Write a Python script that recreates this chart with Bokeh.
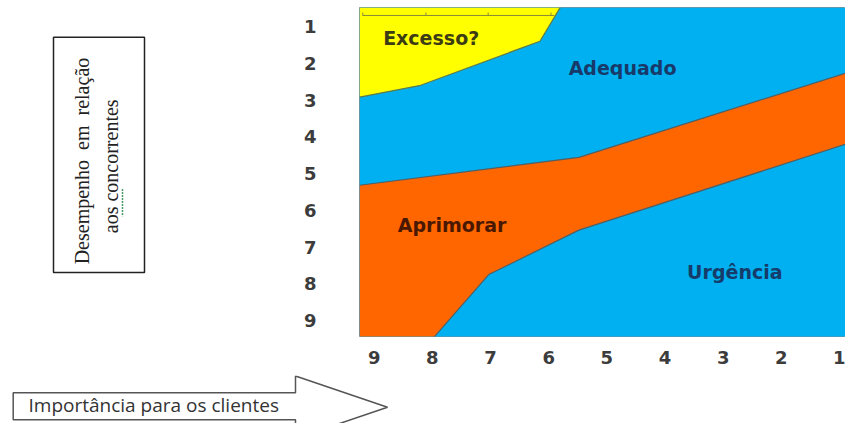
import numpy as np
from bokeh.plotting import figure
from bokeh.layouts import row, column
from bokeh.models import Range1d, FixedTicker
from bokeh.embed import file_html
from bokeh.resources import INLINE
from bokeh.core.properties import value

# ---------------- data ----------------
x_ticks = [9, 8, 7, 6, 5, 4, 3, 2, 1]          # Importância para os clientes
y_ticks = [1, 2, 3, 4, 5, 6, 7, 8, 9]          # Desempenho em relação aos concorrentes

x_extent = [9.25, 0.85]     # left / right limit of the chart area
y_extent = [0.48, 9.45]     # top / bottom limit of the chart area

# boundary of the "Excesso?" zone (upper-left)
excesso_x = [9.25, 8.2, 6.15, 5.8]
excesso_y = [2.92, 2.6, 1.4, 0.48]

# upper and lower boundaries of the "Aprimorar" band
aprim_top_x = [9.25, 5.48, 0.85]
aprim_top_y = [5.32, 4.56, 2.25]
aprim_bot_x = [7.97, 7.03, 5.48, 0.85]
aprim_bot_y = [9.45, 7.75, 6.54, 4.18]

# residual axis line seen inside the yellow zone
resid_x = [9.2, 5.9]
resid_y = [0.70, 0.70]
resid_tick_x = [9.195, 8.11, 7.04, 5.96]

zone_names = ["Excesso?", "Adequado", "Aprimorar", "Urgência"]
zone_x = [8.02, 4.73, 7.66, 2.80]
zone_y = [1.30, 2.14, 6.39, 7.67]
zone_colors = ["#3c3c14", "#173a6a", "#4a1800", "#153c6a"]

y_title_lines = ["Desempenho\u00a0 em\u00a0 relação", "aos concorrentes"]
x_title = "Importância para os clientes"

BLUE = "#00b0f0"
ORANGE = "#ff6600"
YELLOW = "#ffff00"
EDGE = "#4f5f66"

# ---------------- layout (pixels) ----------------
W, H = 845, 423
LEFT_W = 300          # width of the left panel (vertical title box)
TOP_H = 375           # height of the top row
FL, FT, FR, FB = 357, 7, 845, 336          # chart frame left/top/right/bottom (page px)
X_LO, X_HI = 9.252, 0.897
Y_LO, Y_HI = 0.483, 9.435

# ---------------- chart ----------------
p = figure(width=W - LEFT_W, height=TOP_H, output_backend="svg", toolbar_location=None,
           x_range=Range1d(X_LO, X_HI), y_range=Range1d(Y_HI, Y_LO),
           min_border_left=FL - LEFT_W, min_border_right=W - FR, min_border_top=FT,
           min_border_bottom=TOP_H - FB, title=None)
p.background_fill_color = "white"
p.border_fill_color = "white"
p.outline_line_color = "#7d8f98"
p.outline_line_width = 1
p.xgrid.visible = False
p.ygrid.visible = False

p.quad(left=[x_extent[0]], right=[x_extent[1]], top=[y_extent[0]], bottom=[y_extent[1]],
       fill_color=BLUE, line_color=None)

yx = excesso_x + [x_extent[0]]
yy = excesso_y + [y_extent[0]]
p.patch(yx, yy, fill_color=YELLOW, line_color=None)
p.line(excesso_x, excesso_y, line_color="#5d7a4a", line_width=1.2)

p.line(resid_x, resid_y, line_color="#8a8a3a", line_width=1)
p.segment(x0=resid_tick_x, y0=[resid_y[0]] * len(resid_tick_x),
          x1=resid_tick_x, y1=[resid_y[0] - 0.08] * len(resid_tick_x),
          line_color="#8a8a3a", line_width=1)

ox = aprim_top_x + aprim_bot_x[::-1] + [x_extent[0]]
oy = aprim_top_y + aprim_bot_y[::-1] + [y_extent[1]]
p.patch(ox, oy, fill_color=ORANGE, line_color=None)
p.line(aprim_top_x, aprim_top_y, line_color=EDGE, line_width=1.2)
p.line(aprim_bot_x, aprim_bot_y, line_color=EDGE, line_width=1.2)

for name, x, y, c in zip(zone_names, zone_x, zone_y, zone_colors):
    p.text(x=[x], y=[y], text=[name], text_color=c, text_font=value("DejaVu Sans"),
           text_font_style="bold", text_font_size="19px",
           text_align="center", text_baseline="middle")

for ax, ticks in ((p.xaxis, x_ticks), (p.yaxis, y_ticks)):
    ax.ticker = FixedTicker(ticks=ticks)
    ax.axis_line_color = None
    ax.major_tick_line_color = None
    ax.minor_tick_line_color = None
    ax.major_tick_out = 0
    ax.major_tick_in = 0
    ax.minor_tick_out = 0
    ax.major_label_text_font = "DejaVu Sans"
    ax.major_label_text_font_style = "bold"
    ax.major_label_text_font_size = "18px"
    ax.major_label_text_color = "#3c3c3c"
p.xaxis.major_label_standoff = 14
p.yaxis.major_label_standoff = 43


def blank(width, height, xr, yr):
    f = figure(width=width, height=height, output_backend="svg", toolbar_location=None,
               x_range=Range1d(*xr), y_range=Range1d(*yr),
               x_axis_location=None, y_axis_location=None, title=None,
               min_border=0, min_border_left=0, min_border_right=0,
               min_border_top=0, min_border_bottom=0)
    f.outline_line_color = None
    f.background_fill_color = "white"
    f.border_fill_color = "white"
    f.xgrid.visible = False
    f.ygrid.visible = False
    return f


# ---------------- left panel: vertical title in a box ----------------
lp = blank(LEFT_W, TOP_H, (0, LEFT_W), (TOP_H, 0))
lp.quad(left=[53], right=[144], top=[34], bottom=[302],
        fill_color="white", line_color="#222222", line_width=1.5)
lp.text(x=[81, 110], y=[175, 181], text=y_title_lines, angle=np.pi / 2,
        text_font=value("Liberation Serif"), text_font_size="20px",
        text_color="#222222", text_align="center", text_baseline="middle")
# spell-check squiggle under "aos"
lp.line([122, 122], [207, 238], line_color="#4a9a6a", line_width=1.5, line_dash="2 1")

# ---------------- bottom panel: arrow ----------------
bp = blank(W, H - TOP_H, (0, W), (H, TOP_H))
ax_px = [12.7, 295, 295, 387, 295, 295, 12.7]
ay_px = [392.3, 392.3, 375.5, 406.7, 438, 419.3, 419.3]
bp.patch(ax_px, ay_px, fill_color="white", line_color="#555555", line_width=1.5)
bp.text(x=[28], y=[404], text=[x_title], text_font=value("Open Sans"),
        text_font_size="19px", text_color="#333333",
        text_align="left", text_baseline="middle")

layout = column(row(lp, p, spacing=0), bp, spacing=0)
open("out.html", "w").write(file_html(layout, INLINE))
